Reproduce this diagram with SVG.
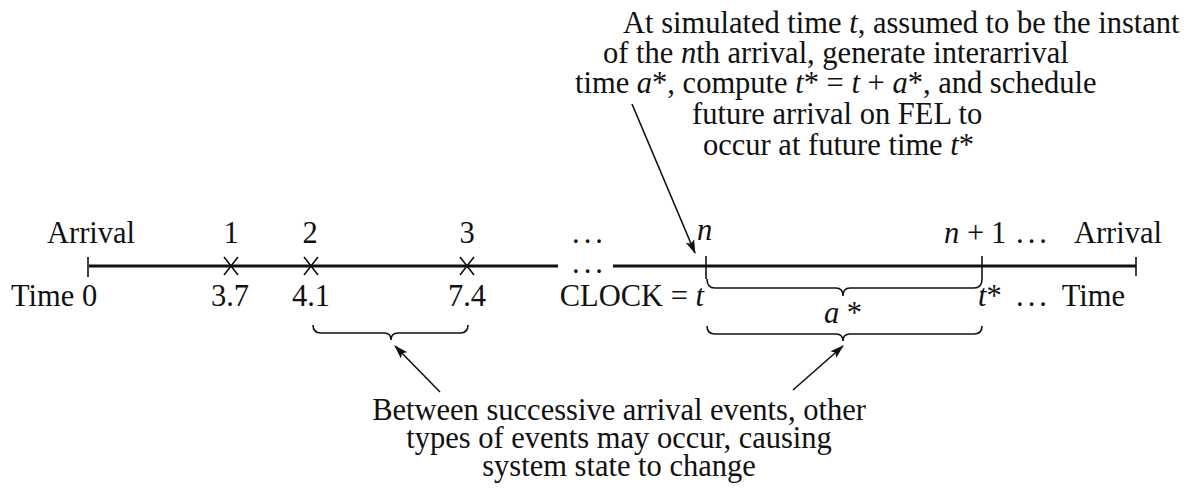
<svg xmlns="http://www.w3.org/2000/svg" width="1190" height="489" viewBox="0 0 1190 489">
<style>
text{font-family:"Liberation Serif","Times New Roman",serif;font-size:30.5px;fill:#111}
.it{font-style:italic}
.dots{letter-spacing:4px}
.axis{stroke:#111;stroke-width:3;fill:none}
.tick{stroke:#111;stroke-width:1.6;fill:none}
.brace{stroke:#111;stroke-width:1.6;fill:none}
.arr{stroke:#111;stroke-width:1.6;fill:none;marker-end:url(#ah)}
</style>
<defs>
<marker id="ah" viewBox="0 0 14 9" refX="13" refY="4.5" markerWidth="14" markerHeight="9" markerUnits="userSpaceOnUse" orient="auto">
<path d="M0,0 L14,4.5 L0,9 L3,4.5 Z" fill="#111"/>
</marker>
</defs>
<rect width="1190" height="489" fill="#fff"/>
<g id="top-note">
<text x="623" y="33">At simulated time <tspan class="it">t</tspan>, assumed to be the instant</text>
<text x="603" y="63">of the <tspan class="it">n</tspan>th arrival, generate interarrival</text>
<text x="575" y="93">time <tspan class="it">a</tspan>*, compute <tspan class="it">t</tspan>* = <tspan class="it">t</tspan> + <tspan class="it">a</tspan>*, and schedule</text>
<text x="692" y="124">future arrival on FEL to</text>
<text x="703" y="155">occur at future time <tspan class="it">t</tspan>*</text>
</g>
<g id="timeline">
<path class="axis" d="M89,266 H558 M613,266 H1136"/>
<path class="tick" d="M88,257 V277 M706,256 V279 M982,256 V279 M1136,257 V276"/>
<path class="tick" d="M224,257 L238,275 M238,257 L224,275 M304,257 L318,275 M318,257 L304,275 M460,257 L474,275 M474,257 L460,275"/>
<text x="572" y="273" class="dots">...</text>
</g>
<g id="labels-above">
<text x="47" y="243">Arrival</text>
<text x="231" y="243" text-anchor="middle">1</text>
<text x="310" y="243" text-anchor="middle">2</text>
<text x="467" y="243" text-anchor="middle">3</text>
<text x="572" y="243" class="dots">...</text>
<text x="697" y="240" class="it">n</text>
<text x="944" y="243"><tspan class="it">n</tspan><tspan x="967">+</tspan><tspan x="991">1</tspan></text>
<text x="1016" y="243" class="dots">...</text>
<text x="1162" y="243" text-anchor="end">Arrival</text>
</g>
<g id="labels-below">
<text x="11" y="306">Time 0</text>
<text x="230" y="306" text-anchor="middle">3.7</text>
<text x="311" y="306" text-anchor="middle">4.1</text>
<text x="467" y="306" text-anchor="middle">7.4</text>
<text x="704" y="306" text-anchor="end">CLOCK = <tspan class="it">t</tspan></text>
<text x="978" y="306"><tspan class="it">t</tspan>*</text>
<text x="1016" y="306" class="dots">...</text>
<text x="1125" y="306" text-anchor="end">Time</text>
<text x="843" y="323" text-anchor="middle" class="it">a<tspan font-style="normal"> *</tspan></text>
</g>
<g id="braces">
<path class="brace" d="M707,279 Q707,288 715,288 L836,288 Q843,288 843,296 Q843,288 850,288 L974,288 Q982,288 982,279"/>
<path class="brace" d="M707,326 Q707,334 715,334 L836,334 Q843,334 843,341 Q843,334 850,334 L974,334 Q982,334 982,326"/>
<path class="brace" d="M313,325 Q313,333 321,333 L384,333 Q391,333 391,340 Q391,333 398,333 L460,333 Q468,333 468,325"/>
</g>
<g id="bottom-note">
<text x="619" y="420" text-anchor="middle">Between successive arrival events, other</text>
<text x="619" y="448" text-anchor="middle">types of events may occur, causing</text>
<text x="619" y="476" text-anchor="middle">system state to change</text>
</g>
<g id="connectors">
<path class="arr" d="M632,104 L695,253"/>
<path class="arr" d="M440,392 L395,346"/>
<path class="arr" d="M793,390 L843,346"/>
</g>
</svg>
